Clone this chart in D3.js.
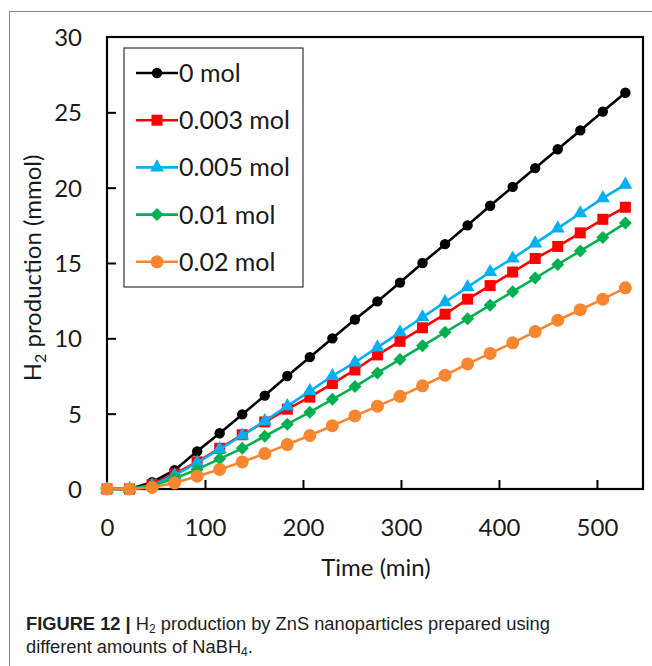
<!DOCTYPE html>
<html>
<head>
<meta charset="utf-8">
<script src="https://cdn.jsdelivr.net/npm/d3@7"></script>
<style>
  body { margin: 0; background: #fff; }
  svg text { font-family: Lato, "Open Sans", sans-serif; }
</style>
</head>
<body>
<svg id="chart" width="652" height="666"></svg>
<script>
// sampling times (min), every 23 min
const times = [0, 23, 46, 69, 92, 115, 138, 161, 184, 207, 230, 253, 276, 299, 322, 345, 368, 391, 414, 437, 460, 483, 506, 529];

// H2 production (mmol) for each NaBH4 amount
const mol0    = [0, 0, 0.45, 1.25, 2.5, 3.7, 4.95, 6.2, 7.5, 8.75, 10.0, 11.25, 12.45, 13.7, 15.0, 16.25, 17.5, 18.8, 20.05, 21.3, 22.55, 23.8, 25.05, 26.3];
const mol0003 = [0, 0, 0.3, 1.0, 1.8, 2.7, 3.6, 4.45, 5.3, 6.1, 7.0, 7.9, 8.9, 9.8, 10.7, 11.6, 12.6, 13.5, 14.4, 15.3, 16.1, 17.0, 17.9, 18.7];
const mol0005 = [0, 0, 0.25, 0.9, 1.75, 2.65, 3.55, 4.5, 5.5, 6.5, 7.5, 8.4, 9.4, 10.4, 11.4, 12.4, 13.4, 14.4, 15.3, 16.3, 17.3, 18.3, 19.3, 20.2];
const mol001  = [0, 0, 0.2, 0.7, 1.3, 2.0, 2.7, 3.5, 4.3, 5.1, 5.95, 6.8, 7.7, 8.6, 9.5, 10.4, 11.3, 12.2, 13.1, 14.0, 14.9, 15.8, 16.7, 17.65];
const mol002  = [0, 0, 0.1, 0.4, 0.85, 1.3, 1.8, 2.35, 2.95, 3.55, 4.2, 4.85, 5.5, 6.15, 6.85, 7.55, 8.3, 9.0, 9.7, 10.45, 11.2, 11.9, 12.6, 13.35];

const seriesNames = ["0 mol", "0.003 mol", "0.005 mol", "0.01 mol", "0.02 mol"];
const seriesValues = [mol0, mol0003, mol0005, mol001, mol002];
const seriesColors = ["#000000", "#FF0000", "#00B0F0", "#00B050", "#F7862E"];
const seriesShapes = ["circle", "square", "triangle", "diamond", "bigcircle"];

const xTicks = [0, 100, 200, 300, 400, 500];
const yTicks = [0, 5, 10, 15, 20, 25, 30];

const svg = d3.select("#chart");

// figure frame
svg.append("rect")
  .attr("x", 9.5).attr("y", 11.5)
  .attr("width", 700).attr("height", 700)
  .attr("fill", "none").attr("stroke", "#8a8a8a").attr("stroke-width", 1);

const pLeft = 107, pRight = 643, pTop = 37, pBottom = 489;
const x = d3.scaleLinear().domain([0, 547]).range([pLeft, pRight]);
const y = d3.scaleLinear().domain([0, 30]).range([pBottom, pTop]);

// axes with inward ticks
const gx = svg.append("g").attr("transform", `translate(0,${pBottom})`)
  .call(d3.axisBottom(x).tickValues(xTicks).tickSize(-9).tickPadding(30).tickFormat(d3.format("d")));
const gy = svg.append("g").attr("transform", `translate(${pLeft},0)`)
  .call(d3.axisLeft(y).tickValues(yTicks).tickSize(-9).tickPadding(25).tickFormat(d3.format("d")));
[gx, gy].forEach(g => {
  g.select(".domain").remove();
  g.selectAll(".tick line").attr("stroke", "#000").attr("stroke-width", 2);
  g.selectAll(".tick text").attr("font-size", 24).attr("fill", "#1a1a1a")
    .style("font-family", "Lato, sans-serif");
});
gx.selectAll(".tick").filter(d => d === 0).select("line").remove();
gy.selectAll(".tick").filter(d => d === 0 || d === 30).select("line").remove();
gy.selectAll(".tick text").attr("dy", "0.35em");

// plot box
svg.append("rect")
  .attr("x", pLeft).attr("y", pTop)
  .attr("width", pRight - pLeft).attr("height", pBottom - pTop)
  .attr("fill", "none").attr("stroke", "#000").attr("stroke-width", 2.2);

// axis titles
svg.append("text")
  .attr("x", 376).attr("y", 576)
  .attr("text-anchor", "middle").attr("font-size", 24).attr("fill", "#1a1a1a")
  .text("Time (min)");
const yt = svg.append("text")
  .attr("transform", "translate(41,268) rotate(-90)")
  .attr("text-anchor", "middle").attr("font-size", 24).attr("fill", "#1a1a1a");
yt.append("tspan").text("H");
yt.append("tspan").attr("font-size", 16).attr("dy", 5).text("2");
yt.append("tspan").attr("dy", -5).text(" production (mmol)");

function drawMarker(g, shape, color) {
  if (shape === "circle") {
    g.append("circle").attr("r", 5.2).attr("fill", color);
  } else if (shape === "bigcircle") {
    g.append("circle").attr("r", 6.5).attr("fill", color);
  } else if (shape === "square") {
    g.append("rect").attr("x", -5.5).attr("y", -5.5).attr("width", 11).attr("height", 11).attr("fill", color);
  } else if (shape === "triangle") {
    g.append("path").attr("d", d3.symbol(d3.symbolTriangle, 85)()).attr("fill", color);
  } else if (shape === "diamond") {
    g.append("path").attr("d", "M0,-6.5L6.5,0L0,6.5L-6.5,0Z").attr("fill", color);
  }
}

const line = d3.line().x(d => x(d[0])).y(d => y(d[1]));

seriesValues.forEach((vals, i) => {
  const pts = times.map((t, j) => [t, vals[j]]);
  const g = svg.append("g");
  g.append("path")
    .attr("d", line(pts))
    .attr("fill", "none").attr("stroke", seriesColors[i]).attr("stroke-width", 2.6);
  pts.forEach(p => {
    const m = g.append("g").attr("transform", `translate(${x(p[0])},${y(p[1])})`);
    drawMarker(m, seriesShapes[i], seriesColors[i]);
  });
});

// legend
const lg = svg.append("g");
lg.append("rect")
  .attr("x", 124).attr("y", 48).attr("width", 179).attr("height", 239)
  .attr("fill", "#fff").attr("stroke", "#333").attr("stroke-width", 1.2);
seriesNames.forEach((name, i) => {
  const yy = 73 + i * 47.2;
  lg.append("line").attr("x1", 136).attr("x2", 178).attr("y1", yy).attr("y2", yy)
    .attr("stroke", seriesColors[i]).attr("stroke-width", 2.6);
  const m = lg.append("g").attr("transform", `translate(157,${yy})`);
  drawMarker(m, seriesShapes[i], seriesColors[i]);
  lg.append("text").attr("x", 179).attr("y", yy).attr("dy", "0.36em")
    .attr("font-size", 25).attr("fill", "#1a1a1a").text(name);
});

// caption
const cap = svg.append("text")
  .attr("x", 26).attr("y", 630)
  .style("font-family", "'Liberation Sans', sans-serif")
  .attr("font-size", 18.3).attr("fill", "#222");
cap.append("tspan").attr("font-weight", "bold").text("FIGURE 12 | ");
cap.append("tspan").text("H");
cap.append("tspan").attr("font-size", 12).attr("dy", 3).text("2");
cap.append("tspan").attr("dy", -3).text(" production by ZnS nanoparticles prepared using");
const cap2 = svg.append("text")
  .attr("x", 26).attr("y", 653)
  .style("font-family", "'Liberation Sans', sans-serif")
  .attr("font-size", 18.3).attr("fill", "#222");
cap2.append("tspan").text("different amounts of NaBH");
cap2.append("tspan").attr("font-size", 12).attr("dy", 3).text("4");
cap2.append("tspan").attr("dy", -3).text(".");
</script>
</body>
</html>
